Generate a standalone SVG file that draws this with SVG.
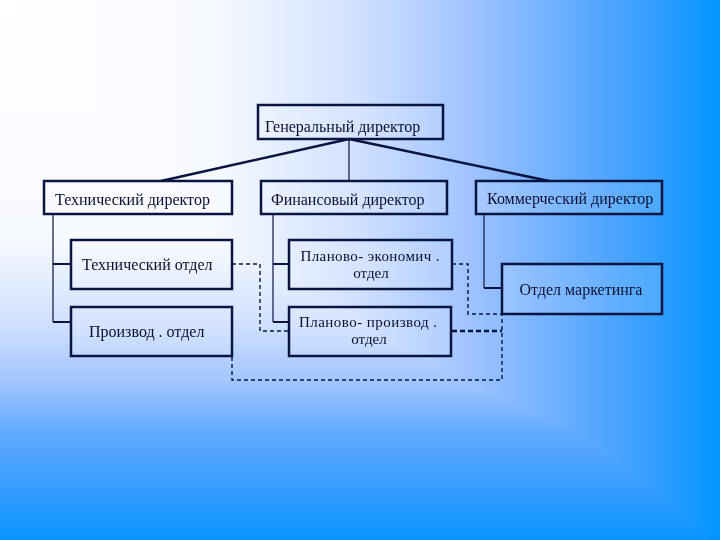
<svg xmlns="http://www.w3.org/2000/svg" width="720" height="540" viewBox="0 0 720 540">
  <defs>
    <linearGradient id="gh" x1="0" y1="0" x2="1" y2="0">
      <stop offset="0" stop-color="#ffffff"/>
      <stop offset="0.3" stop-color="#f6f9ff"/>
      <stop offset="0.5" stop-color="#d0e0ff"/>
      <stop offset="0.66" stop-color="#9cc2ff"/>
      <stop offset="0.82" stop-color="#5aa8ff"/>
      <stop offset="0.93" stop-color="#2a9cff"/>
      <stop offset="1" stop-color="#0096ff"/>
    </linearGradient>
    <linearGradient id="gv" x1="0" y1="0" x2="0" y2="1">
      <stop offset="0" stop-color="#ffffff"/>
      <stop offset="0.45" stop-color="#f6f9ff"/>
      <stop offset="0.6" stop-color="#d0e0ff"/>
      <stop offset="0.71" stop-color="#a0c4ff"/>
      <stop offset="0.8" stop-color="#62aaff"/>
      <stop offset="0.9" stop-color="#389eff"/>
      <stop offset="1" stop-color="#0a94ff"/>
    </linearGradient>
    <style>
      .box { fill: #ffffff; fill-opacity: 0.13; stroke: #0a1440; stroke-width: 2.5; }
      .t { font-family: "Liberation Serif", "Times New Roman", serif; font-size: 16px; fill: #0c0f30; }
      .t2 { font-family: "Liberation Serif", "Times New Roman", serif; font-size: 15px; fill: #0c0f30; }
      .thick { fill: none; stroke: #0a1440; stroke-width: 2.5; }
      .thin { fill: none; stroke: #0a1440; stroke-width: 1.2; }
      .mid { fill: none; stroke: #0a1440; stroke-width: 2; }
      .dash { fill: none; stroke: #0a1440; stroke-width: 1.4; stroke-dasharray: 4 3; }
      .dashb { fill: none; stroke: #0a1440; stroke-width: 2.4; stroke-dasharray: 5 3; }
    </style>
  </defs>
  <rect x="0" y="0" width="720" height="540" fill="url(#gh)"/>
  <rect x="0" y="0" width="720" height="540" fill="url(#gv)" style="mix-blend-mode:darken"/>

  <g id="connectors">
    <path class="thick" d="M349,139 L161,181"/>
    <path class="thick" d="M349,139 L549,181"/>
    <path class="thin" d="M349,139 V181"/>
    <path class="thin" d="M53,214 V322"/>
    <path class="mid" d="M53,322 H71"/>
    <path class="mid" d="M53,264 H71"/>
    <path class="thin" d="M273,214 V322"/>
    <path class="mid" d="M273,322 H289"/>
    <path class="mid" d="M273,264 H289"/>
    <path class="thin" d="M484,214 V288"/>
    <path class="mid" d="M484,288 H502"/>
    <path class="dash" d="M232,264 H260 V331 H289"/>
    <path class="dash" d="M452,264 H468 V314 H502"/>
    <path class="dashb" d="M452,331 H502"/>
    <path class="dash" d="M232,357 V380 H502 V314"/>
  </g>

  <g id="gen">
    <rect class="box" x="258" y="105" width="185" height="34"/>
    <text class="t" x="265" y="132">Генеральный директор</text>
  </g>
  <g id="tech-dir">
    <rect class="box" x="44" y="181" width="188" height="33"/>
    <text class="t" x="55" y="205">Технический директор</text>
  </g>
  <g id="fin-dir">
    <rect class="box" x="261" y="181" width="186" height="33"/>
    <text class="t" x="271" y="205">Финансовый директор</text>
  </g>
  <g id="kom-dir">
    <rect class="box" x="476" y="181" width="186" height="33"/>
    <text class="t" x="487" y="204">Коммерческий директор</text>
  </g>
  <g id="tech-otd">
    <rect class="box" x="71" y="240" width="161" height="49"/>
    <text class="t" x="82" y="270">Технический отдел</text>
  </g>
  <g id="proizv-otd">
    <rect class="box" x="71" y="307" width="161" height="49"/>
    <text class="t" x="89" y="337">Производ . отдел</text>
  </g>
  <g id="plan-ek">
    <rect class="box" x="289" y="240" width="163" height="49"/>
    <text class="t2" x="370" y="261" text-anchor="middle" textLength="139" lengthAdjust="spacing">Планово- экономич .</text>
    <text class="t2" x="371" y="278" text-anchor="middle">отдел</text>
  </g>
  <g id="plan-pr">
    <rect class="box" x="289" y="307" width="162" height="49"/>
    <text class="t2" x="368" y="327" text-anchor="middle" textLength="138" lengthAdjust="spacing">Планово- производ .</text>
    <text class="t2" x="369" y="344" text-anchor="middle">отдел</text>
  </g>
  <g id="marketing">
    <rect class="box" x="502" y="264" width="160" height="50"/>
    <text class="t" x="581" y="295" text-anchor="middle">Отдел маркетинга</text>
  </g>
</svg>
